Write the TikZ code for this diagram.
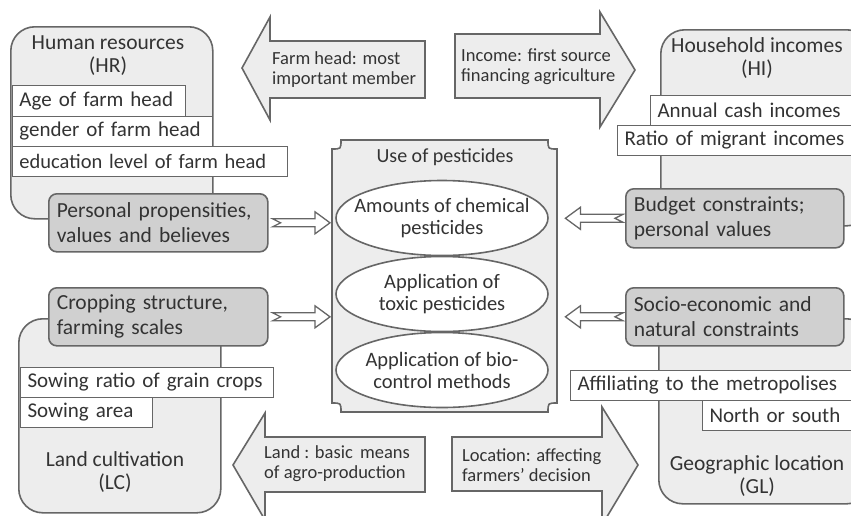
\documentclass[tikz,border=0pt]{standalone}
\usepackage{fontspec}
\setmainfont{Carlito}
\usetikzlibrary{shapes.geometric,calc}
\definecolor{ln}{HTML}{666666}
\definecolor{lite}{HTML}{EDEDED}
\definecolor{dark}{HTML}{D0D0D0}
\definecolor{txt}{HTML}{333333}
\tikzset{
  bigbox/.style={draw=ln, fill=lite, line width=1.6pt, rounded corners=24pt, inner sep=0pt, anchor=north west},
  itembox/.style={draw=ln, fill=white, line width=1pt, inner xsep=7pt, inner ysep=0pt, anchor=north west, align=left, font=\fontsize{21}{24}\selectfont, text=txt},
  darkbox/.style={draw=ln, fill=dark, line width=1.6pt, rounded corners=8pt, inner xsep=8pt, inner ysep=0pt, anchor=north west, align=left, font=\fontsize{21.5}{25}\selectfont, text=txt},
  title/.style={align=center, font=\fontsize{21.5}{23}\selectfont, text=txt, inner sep=0pt},
  blockarrow/.style={draw=ln, fill=lite, line width=1.6pt, line join=miter},
  arrowtext/.style={align=left, anchor=west, font=\fontsize{18.5}{20}\selectfont, text=txt, inner sep=0pt},
  oval/.style={ellipse, draw=ln, fill=white, line width=1.6pt, minimum width=212pt, minimum height=75pt, inner sep=-16pt, align=center, font=\fontsize{20.5}{22}\selectfont, text=txt},
  hollow/.style={draw=ln, fill=white, line width=1.3pt, line join=miter}
}
\newcommand{\arrowLR}[2]{%
  \draw[hollow] let \p1=($(#1.east)+(4pt,0)$), \p2=($(#2.west)+(-2pt,0)$) in
    (\x1,\y1+4pt) -- (\x2-15pt,\y1+4pt) -- (\x2-15pt,\y1+11pt) -- (\x2,\y1)
    -- (\x2-15pt,\y1-11pt) -- (\x2-15pt,\y1-4pt) -- (\x1,\y1-4pt) -- (\x1+8pt,\y1) -- cycle;}
\newcommand{\arrowRL}[2]{%
  \draw[hollow] let \p1=($(#1.west)+(-2pt,0)$), \p2=($(#2.east)+(8pt,0)$) in
    (\x1,\y1+4pt) -- (\x2+15pt,\y1+4pt) -- (\x2+15pt,\y1+11pt) -- (\x2,\y1)
    -- (\x2+15pt,\y1-11pt) -- (\x2+15pt,\y1-4pt) -- (\x1,\y1-4pt) -- (\x1-8pt,\y1) -- cycle;}
\begin{document}
\begin{tikzpicture}[x=1pt,y=-1pt]
\useasboundingbox (0,0) rectangle (851,515);
\clip (0,0) rectangle (851,515);
\fill[white] (0,0) rectangle (851,515);

% ---------- Human resources ----------
\node[bigbox, minimum width=202pt, minimum height=192pt] (hr) at (10,26) {};
\node[title] (hrt) at (108,56) {Human resources\\(HR)};
\node[itembox, minimum height=31pt, text width=159pt] (age) at (12,85) {Age of farm head};
\node[itembox, minimum height=30pt, text width=186pt] (gen) at (12,116) {gender of farm head};
\node[itembox, minimum height=30pt, text width=261pt, font=\fontsize{20.5}{22}\selectfont] (edu) at (12,146) {education level of farm head};
\node[darkbox, minimum height=58pt, text width=203pt] (pers) at (48,193) {Personal propensities,\\values and believes};

% ---------- Household incomes ----------
\node[bigbox, minimum width=210pt, minimum height=196pt] (hi) at (660,29) {};
\node[title] (hit) at (757,58) {Household incomes\\(HI)};
\node[itembox, minimum height=30pt, text width=206pt] (ann) at (650,95) {Annual cash incomes};
\node[itembox, minimum height=30pt, text width=239pt] (rat) at (617,125) {Ratio of migrant incomes};
\node[darkbox, minimum height=59pt, text width=202pt] (bud) at (625,188) {Budget constraints;\\personal values};

% ---------- Land cultivation ----------
\node[bigbox, minimum width=202pt, minimum height=194pt] (lc) at (18,318) {};
\node[itembox, minimum height=30pt, text width=239pt] (sow) at (20,367) {Sowing ratio of grain crops};
\node[itembox, minimum height=30pt, text width=118pt] (are) at (20,397) {Sowing area};
\node[title] (lct) at (115,472) {Land cultivation\\(LC)};
\node[darkbox, minimum height=58pt, text width=203pt] (crop) at (48,287) {Cropping structure,\\farming scales};

% ---------- Geographic location ----------
\node[bigbox, minimum width=212pt, minimum height=185pt] (gl) at (658,318) {};
\node[itembox, minimum height=30pt, text width=286pt] (aff) at (570,370) {Affiliating to the metropolises};
\node[itembox, minimum height=30pt, text width=154pt] (nor) at (702,400) {North or south};
\node[title] (glt) at (757,476) {Geographic location\\(GL)};
\node[darkbox, minimum height=58pt, text width=202pt] (soc) at (625,287) {Socio-economic and\\natural constraints};

% ---------- Use of pesticides ----------
\node[inner sep=0pt, minimum width=225pt, minimum height=272pt, anchor=north west] (use) at (332,140) {};
\draw[draw=ln, fill=lite, line width=1.6pt]
  (341,140) -- (548,140) .. controls (548,149) .. (557,149) -- (557,403)
  .. controls (548,403) .. (548,412) -- (341,412) .. controls (341,403) .. (332,403)
  -- (332,149) .. controls (341,149) .. (341,140) -- cycle;
\node[title, font=\fontsize{20}{22}\selectfont] (uset) at (445,157) {Use of pesticides};
\node[oval] (e1) at (442,218) {Amounts of chemical\\pesticides};
\node[oval] (e2) at (442,294) {Application of\\toxic pesticides};
\node[oval] (e3) at (442,370) {Application of bio-\\control methods};

% ---------- hollow connectors ----------
\arrowLR{pers}{use}
\arrowLR{crop}{use}
\arrowRL{bud}{use}
\arrowRL{soc}{use}

% ---------- block arrows ----------
\draw[blockarrow] (242,68) -- (270,17) -- (270,41) -- (425,41) -- (425,98) -- (270,98) -- (270,120) -- cycle;
\node[arrowtext] (fh) at (272,70) {Farm head: most\\important member};
\draw[blockarrow] (635,70) -- (600,12) -- (600,34) -- (455,34) -- (455,98) -- (600,98) -- (600,127) -- cycle;
\node[arrowtext] (ic) at (461,67) {Income: first source\\financing agriculture};
\draw[blockarrow] (233,465) -- (265,413) -- (265,437) -- (425,437) -- (425,492) -- (265,492) -- (265,520) -- cycle;
\node[arrowtext] (ld) at (264,464) {Land : basic\ \,means\\of agro-production};
\draw[blockarrow] (638,465) -- (602,407) -- (602,437) -- (452,437) -- (452,491) -- (602,491) -- (602,525) -- cycle;
\node[arrowtext] (lo) at (462,465) {Location: affecting\\farmers’ decision};
\end{tikzpicture}
\end{document}
